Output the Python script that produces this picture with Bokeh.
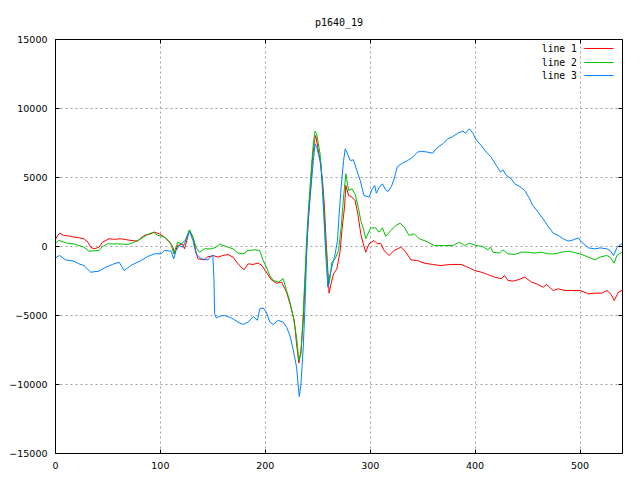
from bokeh.plotting import figure
from bokeh.models import Range1d, FixedTicker, LinearAxis, ColumnDataSource, CustomLabelingPolicy
from bokeh.embed import file_html
from bokeh.resources import INLINE
from bokeh.core.properties import value

title_text = "p1640_19"
series_names = ["line 1", "line 2", "line 3"]
series_colors = ["#ff0000", "#00c000", "#0080ff"]
x_ticks = [0, 100, 200, 300, 400, 500]
y_ticks = [-15000, -10000, -5000, 0, 5000, 10000, 15000]

# line 1 (red)
x1 = [0, 2, 4, 8, 13, 17.6, 22, 27, 31, 33.5,
      36.7, 41.5, 44.7, 51, 56, 62, 67, 72, 78, 84.6,
      91, 94, 99, 104, 108.6, 112, 113.3, 116.5, 121, 123,
      126, 127.7, 131, 134, 135.7, 142, 145.3, 148.5, 150, 155,
      159.6, 164.4, 169.2, 174, 179.7, 183.6, 188.4, 193.2, 196.4, 201,
      205.8, 210.7, 215.5, 220.3, 223.5, 227.6, 229.8, 232, 234, 236.2,
      238.5, 240.4, 242.6, 244.9, 246.8, 248, 250, 252.2, 254.5, 256.4,
      257.6, 259.6, 260.8, 262.7, 265, 268.2, 271.4, 273, 275.5, 276.8,
      279.4, 282.6, 285.6, 288.2, 291, 293.4, 295.7, 298.9, 303.6, 306.8,
      310, 313.2, 318, 322.8, 329.2, 334, 338.8, 345.1, 351.5, 359.5,
      367.5, 377, 386.6, 393, 399.4, 405.8, 412, 418.6, 425, 428,
      431.3, 436, 441, 447.3, 453.7, 458.5, 464.9, 468, 474.4, 479.2,
      485.6, 492, 500, 508, 514.4, 520.8, 525.5, 529.7, 532.6, 536.7,
      540]
y1 = [500, 800, 960, 800, 760, 680, 640, 560, 300, -50,
      -170, -50, 310, 560, 520, 560, 500, 440, 390, 800,
      920, 1040, 920, 680, 310, -50, -530, 70, 190, -170,
      680, 1160, 680, -410, -890, -970, -730, -730, -650, -770,
      -650, -580, -770, -1260, -1690, -1260, -1300, -1200, -1350, -1860,
      -2420, -2660, -2580, -3310, -4150, -5360, -7050, -8450, -7540, -5360,
      -1500, 1160, 3580, 6230, 7680, 8040, 7200, 6230, 4780, 2850,
      920, -1740, -3380, -2700, -1980, -1620, -290, 1160, 2850, 4420,
      3700, 3580, 3330, 2370, 920, 190, -410, 190, 440, 190,
      240, -290, -650, -290, -50, -410, -970, -1020, -1210, -1300,
      -1380, -1300, -1300, -1500, -1740, -1860, -2030, -2220, -2340, -2100,
      -2460, -2510, -2410, -2220, -2580, -2700, -2950, -2750, -3190, -3070,
      -3190, -3190, -3190, -3430, -3380, -3380, -3190, -3480, -3910, -3300,
      -3190]

# line 2 (green)
x2 = [0, 3.2, 11.2, 17.6, 27.1, 31.9, 41.5, 44.7, 49.5, 59,
      68.6, 75, 81.4, 87.8, 93.5, 97.4, 102.2, 107, 110.2, 112.7,
      116.5, 119.7, 123.6, 127.7, 131, 134, 137.3, 142, 148.5, 153,
      156.5, 159.6, 162.8, 169.2, 174, 178.8, 183.6, 190, 194.7, 198,
      201, 204.3, 207.5, 212.3, 217, 220.3, 223.5, 226.7, 229.8, 232,
      234, 235.6, 237.8, 239.5, 241.7, 244.2, 245.8, 247.4, 249, 250.6,
      252.2, 254.5, 256, 257.6, 259.6, 260.8, 261.8, 263.4, 266.6, 269.8,
      272.3, 274.6, 276.8, 279.4, 282.6, 285.6, 288.9, 291, 294, 295.7,
      300.4, 305.2, 308.4, 311.6, 314.8, 319.6, 324.4, 328.5, 332.4, 337.2,
      342, 346.7, 353, 361, 370.7, 378.7, 385, 389.8, 394.6, 401,
      407.4, 412, 414.7, 417, 423.4, 426.5, 431.3, 437.7, 444, 450.5,
      456.9, 463, 469.7, 476, 482.4, 488.8, 493.6, 501.6, 508, 514.4,
      519.2, 525.5, 528.7, 532.6, 535.1, 540]
y2 = [240, 440, 240, 190, -50, -340, -290, 0, 190, 190,
      150, 310, 560, 870, 1040, 800, 730, 480, 190, -530,
      310, 190, 440, 1210, 680, -50, -410, -170, -170, -50,
      190, 70, 0, -170, -480, -530, -290, -240, -290, -1020,
      -1500, -2100, -2460, -2580, -2340, -3190, -4030, -5120, -6570, -8260,
      -7780, -5600, -2220, 680, 3330, 5990, 7440, 8360, 8160, 7440,
      6710, 4540, 2600, 190, -1980, -2700, -2220, -1140, -890, -290,
      1400, 3580, 5270, 4060, 4180, 3800, 2730, 1880, 1160, 560,
      1350, 1350, 1040, 1350, 730, 1160, 1520, 1690, 1400, 800,
      920, 560, 390, 70, 70, 70, 310, 70, 240, 70,
      0, -240, -50, -410, -480, -240, -530, -580, -410, -410,
      -480, -410, -530, -530, -410, -340, -410, -580, -770, -970,
      -770, -650, -770, -1210, -650, -410]

# line 3 (blue)
x3 = [0, 3.8, 9.6, 17.6, 22.4, 27.1, 33.5, 41.5, 47.9, 54.3,
      60.7, 65.5, 71.8, 81.4, 87.8, 94.2, 100.6, 103.8, 110.2, 112.7,
      115, 118, 121.3, 123.6, 127.7, 131, 134, 138.9, 145.3, 148.5,
      150, 151, 151.7, 153.3, 158, 161.2, 167.6, 174, 178.8, 183.6,
      188.4, 192.5, 194.7, 198, 201, 204.3, 207.5, 212.3, 217, 220.3,
      223.5, 226.7, 229.8, 231.5, 232.4, 234, 236.2, 237.8, 239.5, 241,
      243.6, 245.8, 247.4, 249, 250.6, 252.9, 254.5, 256, 257.6, 259.6,
      261.2, 263.4, 266.6, 268.8, 270.4, 272.3, 274.6, 276.2, 278.4, 281,
      284, 287.3, 290.5, 294, 298.9, 302, 304.3, 305.8, 308.4, 311.6,
      314.8, 317, 320.2, 322.8, 325.9, 330.8, 335.6, 340.4, 345.1, 348.3,
      354.7, 359.5, 362.7, 369, 374, 378.7, 383.5, 388.3, 390.8, 394.6,
      397.8, 401, 405.8, 410.6, 415.4, 420.2, 424.3, 426.5, 429.7, 434.5,
      437.7, 442.5, 447.3, 452, 455, 460, 464.9, 469.7, 474.4, 479.2,
      484, 488.8, 493.6, 498.4, 501.6, 508, 514.4, 519.2, 525.5, 528.7,
      532, 535.1, 538.3, 540]
y3 = [-820, -650, -970, -1060, -1260, -1380, -1860, -1790, -1500, -1300,
      -1140, -1740, -1380, -1020, -730, -530, -530, -290, -340, -890,
      -290, 70, -50, 310, 1110, 440, -530, -890, -970, -650,
      -650, -2220, -4880, -5170, -5020, -5000, -5170, -5480, -5650, -5480,
      -5070, -5350, -4520, -4450, -4760, -5480, -5650, -5350, -5480, -5850,
      -6450, -7540, -8740, -10190, -10870, -9950, -7290, -4400, -290, 2130,
      4300, 6230, 7440, 7200, 6710, 6000, 4060, 1880, -530, -2950,
      -2220, -1500, -530, 440, 2370, 4300, 6230, 7080, 6710, 6230,
      6280, 5500, 4780, 3700, 3580, 4180, 4420, 3860, 4250, 4540,
      4100, 3990, 4350, 4900, 5800, 6040, 6230, 6470, 6840, 6900,
      6840, 6760, 7080, 7440, 7800, 7970, 8210, 8360, 8210, 8530,
      8210, 7730, 7320, 6840, 6470, 5870, 5390, 5560, 5150, 4900,
      4540, 4350, 4060, 3450, 2970, 2490, 2000, 1450, 970, 800,
      560, 390, 480, 630, 310, -100, -170, -100, -170, -290,
      -650, -100, 150, 190]

p = figure(width=640, height=480, output_backend="svg", toolbar_location=None,
           x_range=Range1d(0, 540.5), y_range=Range1d(-15000, 15000),
           min_border_left=55, min_border_right=18, min_border_top=39, min_border_bottom=27)
p.background_fill_color = "white"
p.border_fill_color = "white"
p.outline_line_color = "black"
p.outline_line_width = 1

p.title.text = title_text
p.title.align = "center"
p.title.text_font = "DejaVu Sans Mono"
p.title.text_font_size = "10px"
p.title.text_font_style = "normal"
p.title.text_color = "black"
p.title.standoff = 23

for ax, ticks in ((p.xaxis[0], x_ticks), (p.yaxis[0], y_ticks)):
    ax.ticker = FixedTicker(ticks=ticks)
    ax.axis_line_color = None
    ax.major_tick_in = 4
    ax.major_tick_out = 0
    ax.minor_tick_line_color = None
    ax.major_tick_line_color = "black"
    ax.major_label_text_font = "DejaVu Sans"
    ax.major_label_text_font_size = "9.5px"
    ax.major_label_text_color = "black"
p.xaxis[0].major_label_standoff = 8
p.yaxis[0].major_label_standoff = 8

no_labels = CustomLabelingPolicy(code="""
    const n = indices.size
    for (let i = 0; i < n; i++)
        indices.unset(i)
    return indices
""")
for loc, ticks in (("above", x_ticks), ("right", y_ticks)):
    ax = LinearAxis(ticker=FixedTicker(ticks=ticks), major_label_policy=no_labels)
    ax.axis_line_color = None
    ax.major_tick_in = 4
    ax.major_tick_out = 0
    ax.minor_tick_line_color = None
    ax.major_label_standoff = 0
    ax.major_label_text_font_size = "0px"
    p.add_layout(ax, loc)

for g, ticks in ((p.xgrid[0], x_ticks), (p.ygrid[0], y_ticks)):
    g.ticker = FixedTicker(ticks=ticks)
    g.grid_line_color = "#a0a0a0"
    g.grid_line_dash = "2 3"
    g.grid_line_width = 1

xs = [x1, x2, x3]
ys = [y1, y2, y3]
for xv, yv, c in zip(xs, ys, series_colors):
    p.line(x=xv, y=yv, line_color=c, line_width=1)

# legend (gnuplot style: label then sample line)
leg_y = [14350, 13330, 12390]
src = ColumnDataSource(dict(x=[497] * 3, y=leg_y, t=series_names,
                            x0=[504] * 3, x1=[532] * 3, c=series_colors))
p.text(x="x", y="y", text="t", source=src, text_align="right", text_baseline="middle",
       text_font=value("DejaVu Sans Mono"), text_font_size="9.7px", text_color="black")
p.segment(x0="x0", y0="y", x1="x1", y1="y", line_color="c", line_width=1, source=src)

open("out.html", "w").write(file_html(p, INLINE))
